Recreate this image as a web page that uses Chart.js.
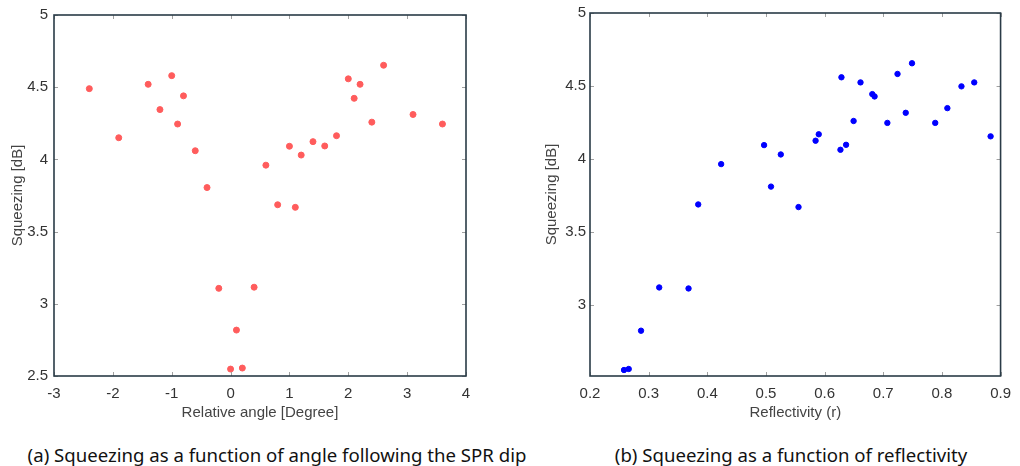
<!DOCTYPE html>
<html>
<head>
<meta charset="utf-8">
<script src="https://cdn.jsdelivr.net/npm/chart.js@4"></script>
<style>
  body { margin: 0; background: #fff; width: 1020px; height: 466px; overflow: hidden; position: relative; }
  .box { position: absolute; top: 0; width: 510px; height: 425px; }
  .cap { position: absolute; top: 442px; line-height: 26px; font-family: "Noto Sans", sans-serif; font-size: 18.6px; color: #111; white-space: nowrap; transform: translateX(-50%); }
</style>
</head>
<body>
<div class="box" style="left:0"><canvas id="c1"></canvas></div>
<div class="box" style="left:510px"><canvas id="c2"></canvas></div>
<div class="cap" style="left:277px">(a) Squeezing as a function of angle following the SPR dip</div>
<div class="cap" style="left:791px">(b) Squeezing as a function of reflectivity</div>
<script>
// panel (a): squeezing vs relative angle
var angle = [-2.4, -1.9, -1.4, -1.2, -1.0, -0.8, -0.9, -0.6, -0.4, -0.2, 0.0, 0.1, 0.2, 0.4, 0.6, 0.8, 1.0, 1.1, 1.2, 1.4, 1.6, 1.8, 2.0, 2.1, 2.2, 2.4, 2.6, 3.1, 3.6];
var squeezeA = [4.49, 4.15, 4.52, 4.345, 4.58, 4.44, 4.245, 4.06, 3.805, 3.107, 2.548, 2.818, 2.555, 3.115, 3.96, 3.686, 4.091, 3.668, 4.03, 4.123, 4.093, 4.164, 4.558, 4.423, 4.52, 4.258, 4.652, 4.311, 4.245];

// panel (b): squeezing vs reflectivity
var reflectivity = [0.258, 0.266, 0.287, 0.318, 0.368, 0.3845, 0.4236, 0.4968, 0.5086, 0.5253, 0.5555, 0.5846, 0.590, 0.627, 0.6287, 0.6366, 0.6494, 0.6612, 0.6813, 0.6852, 0.707, 0.7243, 0.7383, 0.749, 0.7886, 0.8093, 0.8333, 0.8551, 0.883];
var squeezeB = [2.557, 2.564, 2.826, 3.122, 3.115, 3.69, 3.966, 4.096, 3.812, 4.032, 3.672, 4.126, 4.17, 4.064, 4.56, 4.098, 4.261, 4.525, 4.445, 4.429, 4.248, 4.583, 4.317, 4.656, 4.248, 4.349, 4.498, 4.525, 4.156];

var ticksA_x = [-3, -2, -1, 0, 1, 2, 3, 4];
var ticksA_y = [2.5, 3, 3.5, 4, 4.5, 5];
var ticksB_x = [0.2, 0.3, 0.4, 0.5, 0.6, 0.7, 0.8, 0.9];
var ticksB_y = [3, 3.5, 4, 4.5, 5];

function toPoints(xs, ys) {
  return xs.map(function (x, i) { return { x: x, y: ys[i] }; });
}

// matlab style box with inward tick marks
var boxPlugin = {
  id: 'box',
  afterDraw: function (chart) {
    var ctx = chart.ctx, a = chart.chartArea;
    var sx = chart.scales.x, sy = chart.scales.y;
    ctx.save();
    ctx.strokeStyle = '#a0a0a0';
    ctx.lineWidth = 1;
    ctx.beginPath();
    sx.ticks.forEach(function (t) {
      var px = Math.round(sx.getPixelForValue(t.value)) + 0.5;
      ctx.moveTo(px, a.bottom); ctx.lineTo(px, a.bottom - 4);
      ctx.moveTo(px, a.top); ctx.lineTo(px, a.top + 4);
    });
    sy.ticks.forEach(function (t) {
      var py = Math.round(sy.getPixelForValue(t.value)) + 0.5;
      ctx.moveTo(a.left, py); ctx.lineTo(a.left + 4, py);
      ctx.moveTo(a.right, py); ctx.lineTo(a.right - 4, py);
    });
    ctx.stroke();
    ctx.strokeStyle = '#2a3b47';
    ctx.lineWidth = 1.6;
    ctx.strokeRect(a.left, a.top, a.right - a.left, a.bottom - a.top);
    ctx.restore();
  }
};

function makeChart(id, pts, color, radius, xr, yr, xt, yt, xTitle, yw, pad, yTitlePad, yTickPad) {
  return new Chart(document.getElementById(id), {
    type: 'scatter',
    data: {
      datasets: [{
        data: pts,
        backgroundColor: color,
        borderColor: color,
        pointRadius: radius,
        pointHoverRadius: radius
      }]
    },
    options: {
      responsive: true,
      maintainAspectRatio: false,
      animation: false,
      layout: { padding: pad },
      plugins: { legend: { display: false }, tooltip: { enabled: false } },
      scales: {
        x: {
          type: 'linear', min: xr[0], max: xr[1],
          grid: { display: false, drawTicks: false },
          border: { display: false },
          afterBuildTicks: function (s) { s.ticks = xt.map(function (v) { return { value: v }; }); },
          afterFit: function (s) { s.height = 49; },
          ticks: { color: '#333', padding: 9, font: { family: 'Liberation Sans', size: 15 }, maxRotation: 0,
                   callback: function (v) { return String(+v.toFixed(2)); } },
          title: { display: true, text: xTitle, color: '#444', padding: { top: 0, bottom: 3 },
                   font: { family: 'Liberation Sans', size: 15 } }
        },
        y: {
          type: 'linear', min: yr[0], max: yr[1],
          grid: { display: false, drawTicks: false },
          border: { display: false },
          afterBuildTicks: function (s) { s.ticks = yt.map(function (v) { return { value: v }; }); },
          afterFit: function (s) { s.width = yw; },
          ticks: { color: '#333', padding: yTickPad, font: { family: 'Liberation Sans', size: 15 },
                   callback: function (v) { return String(+v.toFixed(2)); } },
          title: { display: true, text: 'Squeezing [dB]', color: '#444', padding: { top: yTitlePad, bottom: 0 },
                   font: { family: 'Liberation Sans', size: 15 } }
        }
      }
    },
    plugins: [boxPlugin]
  });
}

makeChart('c1', toPoints(angle, squeezeA), '#ff5c5c', 3, [-3, 4], [2.5, 5], ticksA_x, ticksA_y,
  'Relative angle [Degree]', 54, { top: 11, right: 44 }, 9, 6);
makeChart('c2', toPoints(reflectivity, squeezeB), '#0000ff', 2.7, [0.2, 0.9], [2.516, 5], ticksB_x, ticksB_y,
  'Reflectivity (r)', 80, { top: 13, right: 13 }, 33, 4);
</script>
</body>
</html>
